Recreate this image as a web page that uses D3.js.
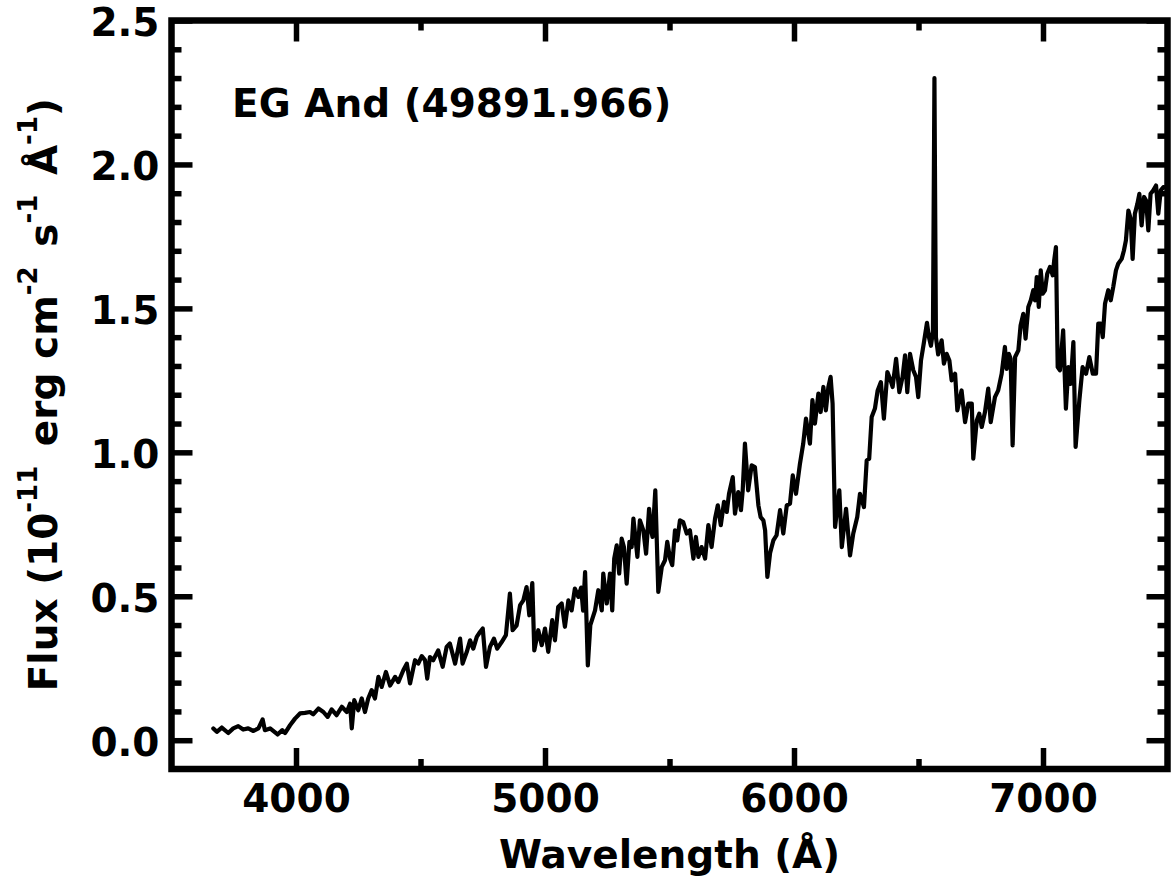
<!DOCTYPE html>
<html>
<head>
<meta charset="utf-8">
<script src="https://cdn.jsdelivr.net/npm/d3@7"></script>
<style>
body { margin: 0; background: #fff; }
svg text { font-family: "DejaVu Sans", sans-serif; font-weight: bold; }
</style>
</head>
<body>
<div id="plot-container"></div>
<script>
// Spectrum (wavelength in Angstrom, flux in 1e-11 erg/cm2/s/A)
const wavelength = [
  3668, 3682, 3702, 3728, 3748, 3768, 3788, 3808, 3829, 3849, 3866, 3875, 3896, 3926, 3945, 3956,
  3976, 3996, 4016, 4036, 4056, 4069, 4090, 4110, 4127, 4143, 4163, 4184, 4204, 4217, 4224, 4234,
  4250, 4264, 4277, 4290, 4304, 4317, 4331, 4344, 4361, 4378, 4398, 4411, 4431, 4445, 4458, 4478,
  4491, 4505, 4518, 4527, 4538, 4551, 4571, 4589, 4605, 4618, 4639, 4659, 4669, 4686, 4699, 4712,
  4726, 4739, 4750, 4763, 4779, 4795, 4808, 4826, 4843, 4859, 4870, 4886, 4900, 4913, 4926, 4937,
  4949, 4957, 4973, 4987, 5000, 5013, 5029, 5040, 5053, 5067, 5080, 5094, 5107, 5120, 5134, 5145,
  5153, 5161, 5172, 5182, 5201, 5214, 5228, 5234, 5248, 5261, 5270, 5278, 5288, 5298, 5308, 5317,
  5328, 5339, 5348, 5355, 5371, 5381, 5395, 5406, 5418, 5426, 5432, 5443, 5455, 5469, 5482, 5491,
  5502, 5511, 5522, 5531, 5542, 5555, 5569, 5582, 5596, 5606, 5616, 5629, 5643, 5656, 5669, 5683,
  5694, 5706, 5719, 5730, 5739, 5754, 5763, 5776, 5787, 5794, 5803, 5816, 5830, 5843, 5857, 5866,
  5877, 5884, 5893, 5904, 5917, 5930, 5944, 5957, 5971, 5984, 5995, 6008, 6024, 6037, 6048, 6064,
  6074, 6084, 6098, 6107, 6118, 6128, 6138, 6147, 6155, 6165, 6182, 6192, 6209, 6225, 6238, 6254,
  6265, 6281, 6292, 6302, 6312, 6325, 6336, 6349, 6361, 6375, 6388, 6396, 6410, 6423, 6436, 6446,
  6455, 6466, 6479, 6490, 6499, 6510, 6522, 6534, 6542, 6550, 6558, 6564, 6570, 6579, 6593, 6602,
  6613, 6624, 6633, 6647, 6656, 6673, 6687, 6700, 6714, 6720, 6734, 6744, 6754, 6767, 6780, 6790,
  6807, 6820, 6834, 6847, 6854, 6863, 6870, 6878, 6888, 6901, 6910, 6921, 6930, 6941, 6951, 6961,
  6968, 6975, 6983, 6991, 6999, 7008, 7017, 7028, 7039, 7045, 7052, 7059, 7068, 7081, 7092, 7102,
  7111, 7122, 7131, 7146, 7159, 7173, 7186, 7200, 7213, 7222, 7232, 7240, 7249, 7262, 7272, 7282,
  7293, 7302, 7316, 7325, 7333, 7343, 7352, 7360, 7369, 7379, 7387, 7396, 7406, 7414, 7423, 7432,
  7443, 7454, 7463, 7473, 7483, 7498
];
const flux = [
  0.041, 0.029, 0.044, 0.025, 0.041, 0.049, 0.037, 0.041, 0.032, 0.041, 0.072, 0.035, 0.041, 0.020, 0.035, 0.025,
  0.052, 0.075, 0.093, 0.095, 0.098, 0.090, 0.110, 0.098, 0.081, 0.107, 0.087, 0.116, 0.098, 0.127, 0.041, 0.139,
  0.104, 0.145, 0.098, 0.145, 0.174, 0.145, 0.220, 0.185, 0.237, 0.190, 0.220, 0.202, 0.243, 0.266, 0.197, 0.278,
  0.266, 0.292, 0.278, 0.214, 0.289, 0.278, 0.312, 0.255, 0.324, 0.336, 0.266, 0.353, 0.266, 0.307, 0.347, 0.318,
  0.359, 0.376, 0.388, 0.255, 0.324, 0.353, 0.318, 0.341, 0.365, 0.509, 0.382, 0.399, 0.469, 0.486, 0.532, 0.434,
  0.546, 0.312, 0.382, 0.330, 0.388, 0.307, 0.417, 0.347, 0.463, 0.475, 0.394, 0.486, 0.451, 0.527, 0.498, 0.530,
  0.450, 0.584, 0.260, 0.400, 0.451, 0.521, 0.451, 0.579, 0.475, 0.579, 0.451, 0.631, 0.677, 0.579, 0.700, 0.671,
  0.544, 0.689, 0.671, 0.770, 0.637, 0.764, 0.729, 0.648, 0.804, 0.729, 0.706, 0.868, 0.515, 0.602, 0.625, 0.689,
  0.631, 0.608, 0.729, 0.694, 0.764, 0.758, 0.718, 0.729, 0.631, 0.706, 0.637, 0.671, 0.631, 0.747, 0.671, 0.770,
  0.816, 0.747, 0.828, 0.793, 0.856, 0.914, 0.787, 0.862, 0.799, 0.868, 1.030, 0.868, 0.955, 0.949, 0.816, 0.775,
  0.764, 0.729, 0.567, 0.650, 0.694, 0.712, 0.799, 0.718, 0.816, 0.822, 0.920, 0.856, 0.961, 1.030, 1.117, 1.030,
  1.181, 1.100, 1.204, 1.140, 1.227, 1.146, 1.227, 1.262, 1.169, 0.741, 0.868, 0.671, 0.804, 0.642, 0.718, 0.775,
  0.856, 0.810, 0.972, 0.978, 1.123, 1.152, 1.215, 1.244, 1.117, 1.279, 1.250, 1.227, 1.325, 1.209, 1.262, 1.337,
  1.209, 1.342, 1.285, 1.262, 1.192, 1.319, 1.383, 1.450, 1.400, 1.370, 1.420, 2.300, 1.400, 1.340, 1.389, 1.308,
  1.342, 1.319, 1.250, 1.273, 1.146, 1.215, 1.105, 1.169, 1.169, 0.978, 1.111, 1.134, 1.088, 1.140, 1.221, 1.105,
  1.192, 1.215, 1.273, 1.366, 1.290, 1.342, 1.325, 1.024, 1.331, 1.354, 1.441, 1.481, 1.395, 1.505, 1.528, 1.563,
  1.528, 1.609, 1.505, 1.632, 1.551, 1.563, 1.620, 1.644, 1.615, 1.667, 1.713, 1.296, 1.285, 1.424, 1.152, 1.296,
  1.238, 1.383, 1.019, 1.181, 1.296, 1.273, 1.331, 1.273, 1.273, 1.447, 1.447, 1.400, 1.516, 1.563, 1.528, 1.574,
  1.632, 1.655, 1.672, 1.701, 1.736, 1.840, 1.811, 1.672, 1.829, 1.863, 1.898, 1.788, 1.887, 1.875, 1.771, 1.898,
  1.910, 1.927, 1.829, 1.910, 1.921, 1.920
];

const xMajor = [4000, 5000, 6000, 7000];
const xMinor = [4500, 5500, 6500];
const yMajor = [0.0, 0.5, 1.0, 1.5, 2.0, 2.5];
const yMinor = [0.1, 0.2, 0.3, 0.4, 0.6, 0.7, 0.8, 0.9, 1.1, 1.2, 1.3, 1.4, 1.6, 1.7, 1.8, 1.9, 2.1, 2.2, 2.3, 2.4];
const starLabel = "EG And (49891.966)";
const xTitle = "Wavelength (Å)";
// y title pieces: [text, superscript?]
const yTitle = [["Flux (10", false], ["-11", true], [" erg cm", false], ["-2", true],
                [" s", false], ["-1", true], [" Å", false], ["-1", true], [")", false]];

const data = wavelength.map((w, i) => ({w: w, f: flux[i]}));

const width = 1171, height = 881;
const fontSize = 39, supSize = 26;

const svg = d3.select("#plot-container").append("svg")
      .attr("width", width)
      .attr("height", height);

const x = d3.scaleLinear().domain([3500, 7500]).range([171.5, 1167.5]);
const y = d3.scaleLinear().domain([-0.1, 2.5]).range([769, 20.5]);

const plotLeft = x.range()[0], plotRight = x.range()[1];
const plotTop = y.range()[1], plotBottom = y.range()[0];

function styleAxis(g) {
    g.select(".domain").remove();
    g.attr("font-family", "DejaVu Sans").attr("font-weight", "bold").attr("font-size", fontSize);
    g.selectAll(".tick line").attr("stroke", "#000").attr("stroke-width", 5.5);
    g.selectAll(".tick text").attr("fill", "#000");
}

// bottom axis: major with labels, minor without
svg.append("g")
    .attr("transform", `translate(0, ${plotBottom})`)
    .call(d3.axisBottom(x).tickValues(xMajor).tickSize(-21).tickPadding(15).tickFormat(d3.format("d")))
    .call(styleAxis);
svg.append("g")
    .attr("transform", `translate(0, ${plotBottom})`)
    .call(d3.axisBottom(x).tickValues(xMinor).tickSize(-10).tickFormat(""))
    .call(styleAxis);
// top axis mirrors
svg.append("g")
    .attr("transform", `translate(0, ${plotTop})`)
    .call(d3.axisTop(x).tickValues(xMajor).tickSize(-21).tickFormat(""))
    .call(styleAxis);
svg.append("g")
    .attr("transform", `translate(0, ${plotTop})`)
    .call(d3.axisTop(x).tickValues(xMinor).tickSize(-10).tickFormat(""))
    .call(styleAxis);

// left axis
const yLeft = svg.append("g")
    .attr("transform", `translate(${plotLeft}, 0)`)
    .call(d3.axisLeft(y).tickValues(yMajor).tickSize(-21).tickPadding(12).tickFormat(d3.format(".1f")))
    .call(styleAxis);
yLeft.selectAll(".tick text").attr("dy", "0.38em");
svg.append("g")
    .attr("transform", `translate(${plotLeft}, 0)`)
    .call(d3.axisLeft(y).tickValues(yMinor).tickSize(-10).tickFormat(""))
    .call(styleAxis);
// right axis mirrors
svg.append("g")
    .attr("transform", `translate(${plotRight}, 0)`)
    .call(d3.axisRight(y).tickValues(yMajor).tickSize(-21).tickFormat(""))
    .call(styleAxis);
svg.append("g")
    .attr("transform", `translate(${plotRight}, 0)`)
    .call(d3.axisRight(y).tickValues(yMinor).tickSize(-10).tickFormat(""))
    .call(styleAxis);

// the spectrum
svg.append("defs").append("clipPath").attr("id", "plot-clip")
    .append("rect")
    .attr("x", plotLeft).attr("y", plotTop)
    .attr("width", plotRight - plotLeft).attr("height", plotBottom - plotTop);

svg.append("path")
    .datum(data)
    .attr("clip-path", "url(#plot-clip)")
    .attr("fill", "none")
    .attr("stroke", "#000")
    .attr("stroke-width", 4.2)
    .attr("stroke-linejoin", "round")
    .attr("stroke-linecap", "round")
    .attr("d", d3.line()
          .x(d => x(d.w))
          .y(d => y(d.f)));

// frame
svg.append("rect")
    .attr("x", plotLeft).attr("y", plotTop)
    .attr("width", plotRight - plotLeft).attr("height", plotBottom - plotTop)
    .attr("fill", "none")
    .attr("stroke", "#000")
    .attr("stroke-width", 6.5);

// label in the corner
svg.append("text")
    .attr("x", 232)
    .attr("y", 117)
    .attr("font-size", fontSize)
    .attr("fill", "#000")
    .text(starLabel);

// x title
svg.append("text")
    .attr("x", (plotLeft + plotRight) / 2)
    .attr("y", 868)
    .attr("text-anchor", "middle")
    .attr("font-size", fontSize)
    .attr("fill", "#000")
    .text(xTitle);

// y title with superscripts
const yt = svg.append("text")
    .attr("transform", `translate(57, ${(plotTop + plotBottom) / 2}) rotate(-90)`)
    .attr("text-anchor", "middle")
    .attr("font-size", fontSize)
    .attr("fill", "#000");
let raised = false;
yTitle.forEach(([t, sup], i) => {
    const span = yt.append("tspan").text(t);
    if (sup) {
        span.attr("font-size", supSize).attr("dy", -20);
        raised = true;
    } else {
        span.attr("font-size", fontSize);
        if (raised) { span.attr("dy", 20).attr("dx", i === yTitle.length - 1 ? 0 : 6); raised = false; }
    }
});
</script>
</body>
</html>
